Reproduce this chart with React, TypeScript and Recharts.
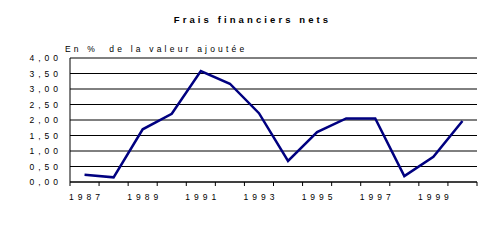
import React from "react";
import { LineChart, Line, XAxis, YAxis, CartesianGrid } from "recharts";

const years = [1987, 1988, 1989, 1990, 1991, 1992, 1993, 1994, 1995, 1996, 1997, 1998, 1999, 2000];
const values = [0.23, 0.15, 1.7, 2.2, 3.58, 3.17, 2.22, 0.68, 1.61, 2.05, 2.05, 0.19, 0.81, 1.97];
const yTicks = [0, 0.5, 1, 1.5, 2, 2.5, 3, 3.5, 4];
const xLabelYears = [1987, 1989, 1991, 1993, 1995, 1997, 1999];
const title = "Frais financiers nets";
const subtitle = "En %  de la valeur ajoutée";

const data = years.map((y, i) => ({ year: y, value: values[i] }));
const boundaries = [...years.map((y) => y - 0.5), years[years.length - 1] + 0.5];
const xDomain: [number, number] = [years[0] - 0.5, years[years.length - 1] + 0.5];

const FONT = "'Liberation Sans', Arial, sans-serif";
const tickStyle = { fontSize: 8.5, fontFamily: FONT, fill: "#000", letterSpacing: 4 };

function BoundaryTick(props: any) {
  const { x, y, width, payload } = props;
  const year = payload.value + 0.5;
  if (!xLabelYears.includes(year)) return <g />;
  const half = width / years.length / 2;
  return (
    <text
      x={x + half + 2}
      y={y + 12}
      textAnchor="middle"
      fontSize={tickStyle.fontSize}
      fontFamily={FONT}
      fill="#000"
      letterSpacing={tickStyle.letterSpacing}
    >
      {year}
    </text>
  );
}

export default function App() {
  return (
    <div style={{ position: "relative", width: 494, height: 220 }}>
      <LineChart
        width={494}
        height={220}
        data={data}
        margin={{ top: 50, right: 25, bottom: 16, left: 0 }}
      >
        <CartesianGrid vertical={false} stroke="#000" strokeWidth={1} />
        <XAxis
          dataKey="year"
          type="number"
          domain={xDomain}
          ticks={boundaries}
          tickSize={4}
          tickMargin={2}
          height={30}
          interval={0}
          axisLine={{ stroke: "#000" }}
          tickLine={{ stroke: "#000" }}
          tick={<BoundaryTick />}
        />
        <YAxis
          domain={[0, 4]}
          ticks={yTicks}
          width={62}
          interval={0}
          tickFormatter={(v: number) => v.toFixed(2).replace(".", ",")}
          axisLine={{ stroke: "#000" }}
          tickLine={false}
          tick={tickStyle}
        />
        <YAxis
          yAxisId="r"
          orientation="right"
          domain={[0, 4]}
          width={0}
          tick={false}
          tickLine={false}
          axisLine={{ stroke: "#000" }}
        />
        <Line
          type="linear"
          dataKey="value"
          stroke="#000080"
          strokeWidth={2.5}
          dot={false}
          isAnimationActive={false}
        />
      </LineChart>
      <svg
        width={494}
        height={220}
        style={{ position: "absolute", left: 0, top: 0, pointerEvents: "none" }}
      >
        <text
          x={244.5}
          y={15}
          textAnchor="middle"
          fontFamily={FONT}
          fontSize={9.5}
          fontWeight="bold"
          letterSpacing={3.1}
          fill="#000"
        >
          {title}
        </text>
        <text
          x={57}
          y={44}
          fontFamily={FONT}
          fontSize={8.5}
          letterSpacing={3.2}
          fill="#000"
          style={{ whiteSpace: "pre" }}
        >
          {subtitle}
        </text>
      </svg>
    </div>
  );
}
